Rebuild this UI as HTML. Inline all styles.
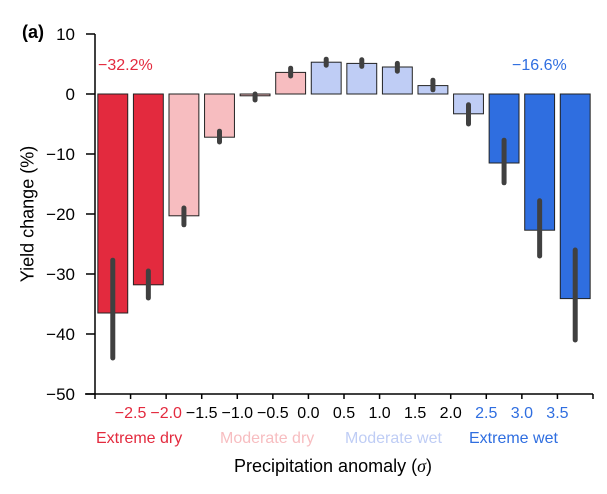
<!DOCTYPE html>
<html><head><meta charset="utf-8"><style>
body{margin:0;background:#fff;}
svg{font-family:"Liberation Sans",sans-serif;}
</style></head><body>
<svg id="c" width="607" height="489"></svg>
<script>
const categories=["-3.0","-2.5","-2.0","-1.5","-1.0","-0.5","0.0","0.5","1.0","1.5","2.0","2.5","3.0","3.5"];
const values=[-36.5,-31.8,-20.3,-7.2,-0.3,3.6,5.3,5.1,4.5,1.4,-3.3,-11.5,-22.7,-34.1];
const errLow=[-44,-34,-21.8,-8,-1,3,4.8,4.6,3.8,0.7,-5,-14.8,-27,-41];
const errHigh=[-27.7,-29.5,-19,-6.2,0,4.3,5.8,5.7,5.1,2.3,-1.8,-7.7,-17.8,-26];
const groups=["ed","ed","md","md","md","md","mw","mw","mw","mw","mw","ew","ew","ew"];
const yTicks=[10,0,-10,-20,-30,-40,-50];
const xTickLabels=["\u22122.5","\u22122.0","\u22121.5","\u22121.0","\u22120.5","0.0","0.5","1.0","1.5","2.0","2.5","3.0","3.5"];
const xTickColors=["#e32a3e","#e32a3e","#000","#000","#000","#000","#000","#000","#000","#000","#2f6ee0","#2f6ee0","#2f6ee0"];
const fill={ed:"#e32a3e",md:"#f7bdc0",mw:"#bfcdf5",ew:"#2f6ee0"};
const NS="http://www.w3.org/2000/svg";
const svg=document.getElementById("c");
const x0=95,x1=593,n=values.length,step=(x1-x0)/n;
const y=v=>94-v*6;
function mk(t,a,txt){const e=document.createElementNS(NS,t);for(const k in a)e.setAttribute(k,a[k]);if(txt!==undefined)e.textContent=txt;svg.appendChild(e);return e;}
values.forEach((v,i)=>{
 const bx=x0+i*step+step*0.08,bw=step*0.84;
 const r=mk("rect",{x:bx,y:Math.min(y(v),y(0)),width:bw,height:Math.abs(y(v)-y(0)),fill:fill[groups[i]],stroke:"#222","stroke-width":1});
 
 
 const cx=x0+(i+0.5)*step;
 const l=mk("line",{x1:cx,x2:cx,y1:y(errLow[i]),y2:y(errHigh[i]),stroke:"#404040","stroke-width":5,"stroke-linecap":"round"});
 
 
});
const ya=mk("line",{x1:x0,x2:x0,y1:y(10),y2:y(-50),stroke:"#000","stroke-width":1.5});


const xa=mk("line",{x1:x0-10,x2:x1,y1:y(-50),y2:y(-50),stroke:"#000","stroke-width":1.5});


yTicks.forEach(t=>{
 mk("line",{x1:x0-9,x2:x0,y1:y(t),y2:y(t),stroke:"#000","stroke-width":1.5});
 const tl=mk("text",{x:75,y:y(t)+6,"text-anchor":"end","font-size":17},t<0?"\u2212"+Math.abs(t):String(t));
 
 
});
for(let i=0;i<=n;i++){mk("line",{x1:x0+i*step,x2:x0+i*step,y1:y(-50),y2:y(-50)+5,stroke:"#000","stroke-width":1.5});}
xTickLabels.forEach((s,i)=>{
 const tl=mk("text",{x:x0+(i+1)*step,y:418,"text-anchor":"middle","font-size":16,fill:xTickColors[i]},s);
 
 
});
</script>
<div style="position:absolute;left:0;top:0;width:607px;height:489px;font-family:'Liberation Sans',sans-serif;pointer-events:none">
 <div style="position:absolute;left:22px;top:22px;font-size:18px;font-weight:bold">(a)</div>
 <div style="position:absolute;left:98px;top:57px;font-size:16px;color:#e32a3e">−32.2%</div>
 <div style="position:absolute;left:512px;top:57px;font-size:16px;color:#2f6ee0">−16.6%</div>
 <div style="position:absolute;left:96px;top:430px;font-size:16px;color:#e32a3e">Extreme dry</div>
 <div style="position:absolute;left:220px;top:430px;font-size:16px;color:#f7bdc0">Moderate dry</div>
 <div style="position:absolute;left:345px;top:430px;font-size:16px;color:#bfcdf5">Moderate wet</div>
 <div style="position:absolute;left:469px;top:430px;font-size:16px;color:#2f6ee0">Extreme wet</div>
 <div style="position:absolute;left:234px;top:456px;font-size:18px">Precipitation anomaly (<i style="font-family:'Liberation Serif',serif">σ</i>)</div>
 <div style="position:absolute;left:28px;top:214px;font-size:18px;white-space:nowrap;transform:translate(-50%,-50%) rotate(-90deg)">Yield change (%)</div>
</div>
</body></html>
